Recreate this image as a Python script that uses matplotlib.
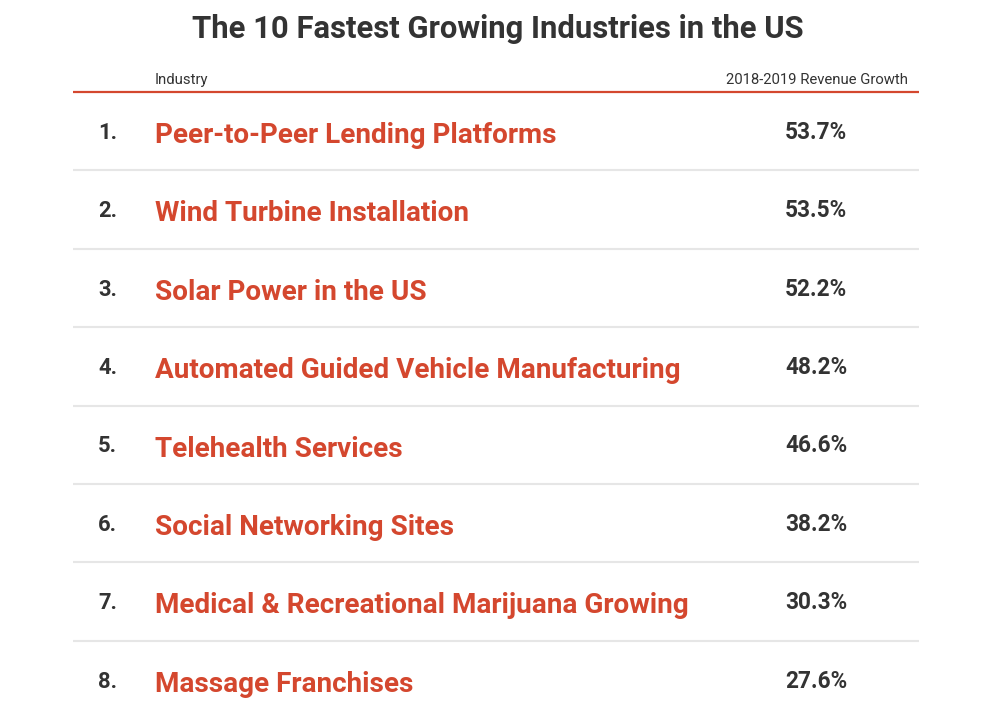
import matplotlib.pyplot as plt

plt.rcParams['font.family'] = ['Roboto', 'DejaVu Sans']

# table contents
ranks = [1, 2, 3, 4, 5, 6, 7, 8]
industries = ['Peer-to-Peer Lending Platforms',
              'Wind Turbine Installation',
              'Solar Power in the US',
              'Automated Guided Vehicle Manufacturing',
              'Telehealth Services',
              'Social Networking Sites',
              'Medical & Recreational Marijuana Growing',
              'Massage Franchises']
growth = [53.7, 53.5, 52.2, 48.2, 46.6, 38.2, 30.3, 27.6]

title = 'The 10 Fastest Growing Industries in the US'
col_headers = ['Industry', '2018-2019 Revenue Growth']

red = '#d4472e'
dark = '#333333'
grey_line = '#e6e6e6'

fig = plt.figure(figsize=(10.05, 7.10), dpi=100)
ax = fig.add_axes([0, 0, 1, 1])
ax.set_xlim(0, 1005)
ax.set_ylim(710, 0)
ax.axis('off')

x_left, x_right = 73, 919
header_line_y = 92
row_h = 78.4

ax.text(498, 37.5, title, ha='center', va='baseline', fontsize=22.3,
        fontweight='bold', color=dark)
ax.text(155, 84.3, col_headers[0], ha='left', va='baseline', fontsize=10.7, color=dark)
ax.text(908, 84.3, col_headers[1], ha='right', va='baseline', fontsize=10.7, color=dark)
ax.hlines(header_line_y, x_left, x_right, color=red, lw=1.6)

#one row per industry, grey separator under each but the last
for i, (r, name, g) in enumerate(zip(ranks, industries, growth)):
    yc = header_line_y + row_h * (i + 0.5)
    ax.text(98, yc + 7.5, f'{r}.', ha='left', va='baseline', fontsize=15.8,
            fontweight='bold', color=dark)
    ax.text(155, yc + 11.8, name, ha='left', va='baseline', fontsize=20.1,
            fontweight='bold', color=red)
    ax.text(816, yc + 7.5, f'{g:.1f}%', ha='center', va='baseline', fontsize=16.3,
            fontweight='bold', color=dark)
    if i < len(ranks) - 1:
        ax.hlines(header_line_y + row_h * (i + 1), x_left, x_right,
                  color=grey_line, lw=1.5)

plt.savefig('out.png', dpi=100)
